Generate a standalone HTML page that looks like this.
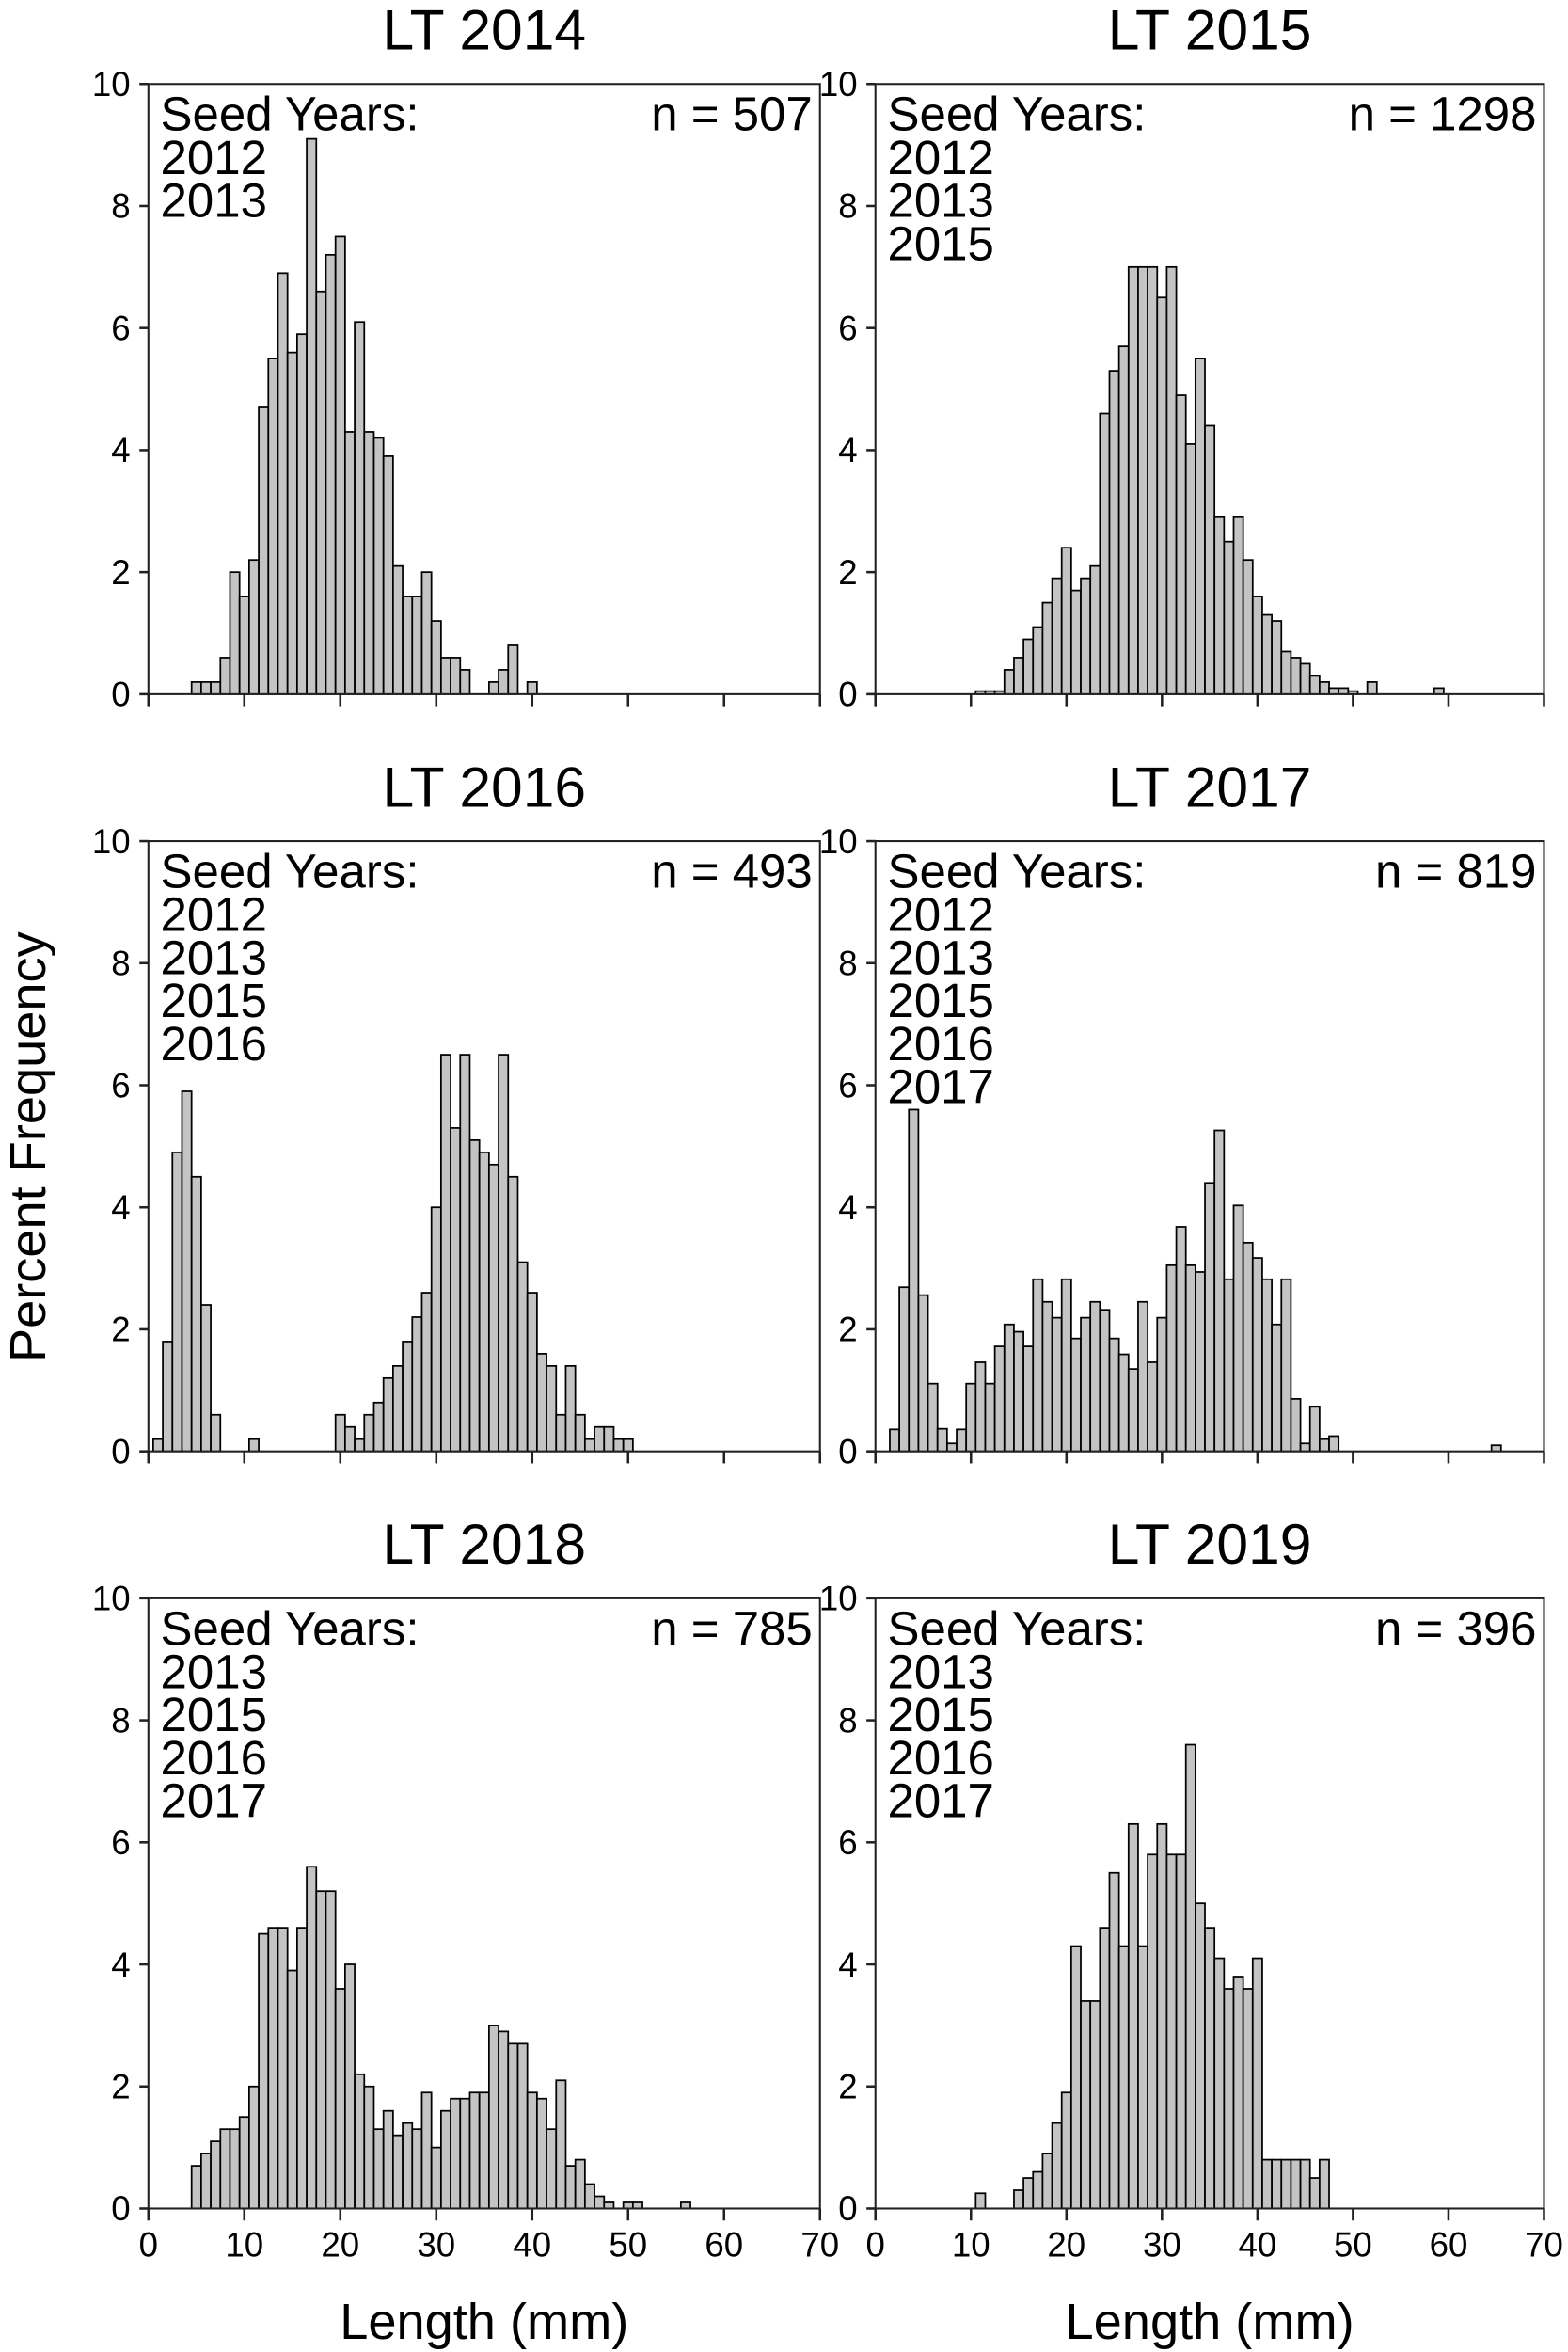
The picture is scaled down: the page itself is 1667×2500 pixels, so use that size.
<!DOCTYPE html>
<html><head><meta charset="utf-8">
<style>
html,body{margin:0;padding:0;background:#fff;}
svg{display:block;}
text{font-family:"Liberation Sans",Arial,sans-serif;fill:#000;}
</style></head>
<body>
<svg id="s" width="1667" height="2500" viewBox="0 0 1046 1568.7" xmlns="http://www.w3.org/2000/svg"></svg>
<script>
const S=document.getElementById('s');let h='';
const p4=[0.36,2.69,5.6,2.56,1.11,0.37,0.13,0.36,1.11,1.46,1.11,1.72,2.08,1.96,1.72,2.82,2.45,2.19,2.82,1.85,2.19,2.45,2.32,1.85,1.59,1.35,2.45,1.46,2.19,3.05,3.68,3.05,2.94,4.4,5.26,2.82,4.03,3.42,3.17,2.82,2.08,2.82,0.86,0.13,0.73,0.2,0.25];
while(p4.length<63)p4.push(0);p4.push(0.1);
const panels=[
 {x0:99,x1:547,y0:56,y1:463,t:"LT 2014",n:"n = 507",seed:["2012","2013"],start:4.5,xl:false,
  d:[0.2,0.2,0.2,0.6,2.0,1.6,2.2,4.7,5.5,6.9,5.6,5.9,9.1,6.6,7.2,7.5,4.3,6.1,4.3,4.2,3.9,2.1,1.6,1.6,2.0,1.2,0.6,0.6,0.4,0,0,0.2,0.4,0.8,0,0.2]},
 {x0:584,x1:1030,y0:56,y1:463,t:"LT 2015",n:"n = 1298",seed:["2012","2013","2015"],start:10.5,xl:false,
  d:[0.05,0.05,0.05,0.4,0.6,0.9,1.1,1.5,1.9,2.4,1.7,1.9,2.1,4.6,5.3,5.7,7.0,7.0,7.0,6.5,7.0,4.9,4.1,5.5,4.4,2.9,2.5,2.9,2.2,1.6,1.3,1.2,0.7,0.6,0.5,0.3,0.2,0.1,0.1,0.05,0,0.2,0,0,0,0,0,0,0.1]},
 {x0:99,x1:547,y0:561,y1:968,t:"LT 2016",n:"n = 493",seed:["2012","2013","2015","2016"],start:0.5,xl:false,
  d:[0.2,1.8,4.9,5.9,4.5,2.4,0.6,0,0,0,0.2,0,0,0,0,0,0,0,0,0.6,0.4,0.2,0.6,0.8,1.2,1.4,1.8,2.2,2.6,4.0,6.5,5.3,6.5,5.1,4.9,4.7,6.5,4.5,3.1,2.6,1.6,1.4,0.6,1.4,0.6,0.2,0.4,0.4,0.2,0.2]},
 {x0:584,x1:1030,y0:561,y1:968,t:"LT 2017",n:"n = 819",seed:["2012","2013","2015","2016","2017"],start:1.5,xl:false,d:p4},
 {x0:99,x1:547,y0:1066,y1:1473,t:"LT 2018",n:"n = 785",seed:["2013","2015","2016","2017"],start:4.5,xl:true,
  d:[0.7,0.9,1.1,1.3,1.3,1.5,2.0,4.5,4.6,4.6,3.9,4.6,5.6,5.2,5.2,3.6,4.0,2.2,2.0,1.3,1.6,1.2,1.4,1.3,1.9,1.0,1.6,1.8,1.8,1.9,1.9,3.0,2.9,2.7,2.7,1.9,1.8,1.3,2.1,0.7,0.8,0.4,0.2,0.1,0,0.1,0.1,0,0,0,0,0.1]},
 {x0:584,x1:1030,y0:1066,y1:1473,t:"LT 2019",n:"n = 396",seed:["2013","2015","2016","2017"],start:10.5,xl:true,
  d:[0.25,0,0,0,0.3,0.5,0.6,0.9,1.4,1.9,4.3,3.4,3.4,4.6,5.5,4.3,6.3,4.3,5.8,6.3,5.8,5.8,7.6,5.0,4.6,4.1,3.6,3.8,3.6,4.1,0.8,0.8,0.8,0.8,0.8,0.5,0.8]}
];
for(const p of panels){
 const sx=(p.x1-p.x0)/70, sy=(p.y1-p.y0)/10;
 const X=v=>p.x0+v*sx, Y=v=>p.y1-v*sy;
 p.d.forEach((v,i)=>{ if(v<=0)return; const a=X(p.start+i);
  h+=`<rect x="${a.toFixed(2)}" y="${Y(v).toFixed(2)}" width="${sx.toFixed(2)}" height="${(v*sy).toFixed(2)}" fill="#c4c4c4" stroke="#000" stroke-width="1.1"/>`;});
 h+=`<rect x="${p.x0}" y="${p.y0}" width="${p.x1-p.x0}" height="${p.y1-p.y0}" fill="none" stroke="#222" stroke-width="1.3"/>`;
 for(let v=0;v<=10;v+=2){const y=Y(v);h+=`<line x1="${p.x0-6}" x2="${p.x0}" y1="${y}" y2="${y}" stroke="#222" stroke-width="1.6"/>`;
  h+=`<text x="${p.x0-12}" y="${y+8}" font-size="23" text-anchor="end">${v}</text>`;}
 for(let v=0;v<=70;v+=10){const x=X(v);
  h+=`<line x1="${x}" x2="${x}" y1="${p.y1}" y2="${p.y1+8}" stroke="#222" stroke-width="1.6"/>`;
  if(p.xl)h+=`<text x="${x}" y="${p.y1+32}" font-size="23" text-anchor="middle">${v}</text>`;}
 h+=`<text x="${(p.x0+p.x1)/2}" y="${p.y0-23}" font-size="38" text-anchor="middle">${p.t}</text>`;
 h+=`<text x="${p.x0+8}" y="${p.y0+31}" font-size="32">Seed Years:</text>`;
 p.seed.forEach((s,i)=>{h+=`<text x="${p.x0+8}" y="${p.y0+60+i*28.7}" font-size="32">${s}</text>`;});
 h+=`<text x="${p.x1-5}" y="${p.y0+31}" font-size="32" text-anchor="end">${p.n}</text>`;
 if(p.xl)h+=`<text x="${(p.x0+p.x1)/2}" y="1560" font-size="34" text-anchor="middle">Length (mm)</text>`;
}
h+=`<text transform="translate(30,765) rotate(-90)" font-size="34" text-anchor="middle">Percent Frequency</text>`;
S.innerHTML=h;
</script>
</body></html>
